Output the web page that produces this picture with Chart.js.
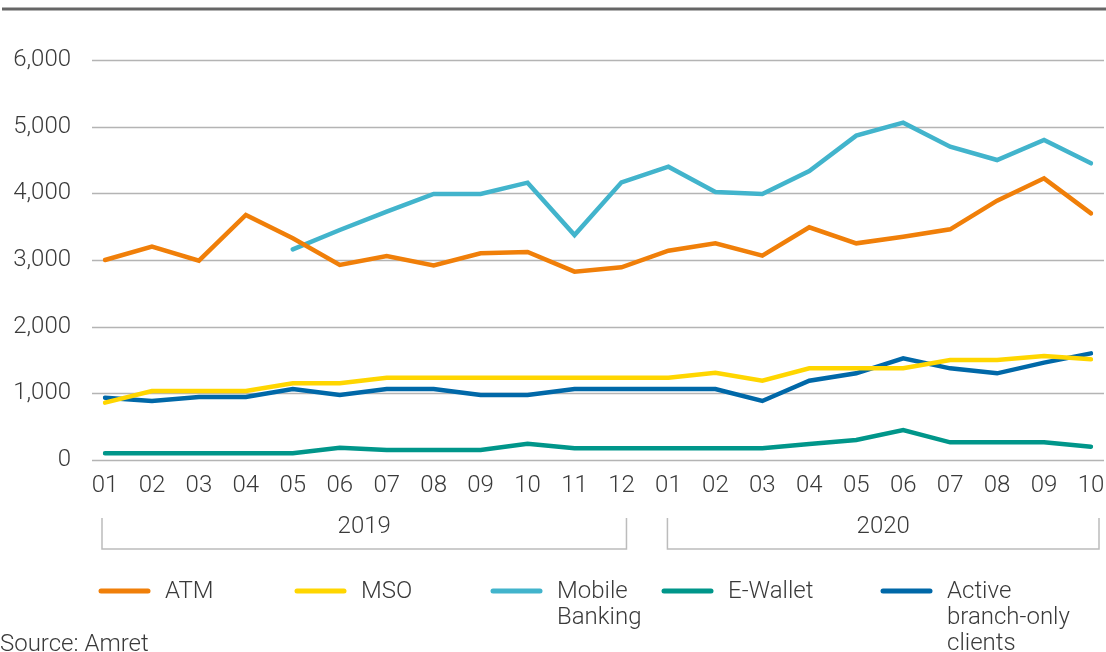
<!DOCTYPE html>
<html>
<head>
<meta charset="utf-8">
<script src="https://cdn.jsdelivr.net/npm/chart.js@4.4.0/dist/chart.umd.min.js"></script>
<style>
  body { margin: 0; background: #fff; }
  #wrap { position: relative; width: 1106px; height: 652px; overflow: hidden; }
</style>
</head>
<body>
<div id="wrap"><canvas id="usageChart" width="1106" height="652"></canvas></div>
<script>
const months = ['01','02','03','04','05','06','07','08','09','10','11','12',
                '01','02','03','04','05','06','07','08','09','10'];
const yearLabels = ['2019', '2020'];
const yTicks = [0, 1000, 2000, 3000, 4000, 5000, 6000];

const atm = [3000, 3200, 2990, 3675, 3325, 2925, 3060, 2920, 3100, 3120, 2825, 2890,
             3140, 3250, 3065, 3490, 3250, 3350, 3460, 3890, 4225, 3700];
const mso = [860, 1035, 1035, 1035, 1150, 1150, 1235, 1235, 1235, 1235, 1235, 1235,
             1235, 1310, 1190, 1375, 1375, 1375, 1500, 1500, 1560, 1510];
const mobileBanking = [null, null, null, null, 3160, 3450, 3725, 3990, 3990, 4160, 3375, 4165,
                       4400, 4020, 3990, 4335, 4865, 5060, 4700, 4500, 4800, 4450];
const eWallet = [100, 100, 100, 100, 100, 185, 150, 150, 150, 245, 175, 175,
                 175, 175, 175, 240, 300, 450, 265, 265, 265, 200];
const branchOnly = [935, 885, 945, 945, 1065, 975, 1065, 1065, 975, 975, 1065, 1065,
                    1065, 1065, 885, 1190, 1300, 1525, 1375, 1300, 1460, 1600];

const FONT = 'Roboto, "Liberation Sans", sans-serif';
const TEXT = '#3a3a3a';

const series = [
    { label: ['ATM'], data: atm, color: '#F07F09', legendX: 99 },
    { label: ['MSO'], data: mso, color: '#FFD600', legendX: 295 },
    { label: ['Mobile', 'Banking'], data: mobileBanking, color: '#42B4CC', legendX: 491 },
    { label: ['E-Wallet'], data: eWallet, color: '#00968A', legendX: 662 },
    { label: ['Active', 'branch-only', 'clients'], data: branchOnly, color: '#0068A8', legendX: 881 }
];

// gridlines, top rule, year brackets, legend and source note
const decorations = {
    id: 'decorations',
    beforeDatasetsDraw(chart) {
        const { ctx, scales: { y } } = chart;
        ctx.save();
        ctx.strokeStyle = '#b4b4b4';
        ctx.lineWidth = 1.5;
        yTicks.forEach(v => {
            const py = Math.round(y.getPixelForValue(v)) + 0.5;
            ctx.beginPath();
            ctx.moveTo(92, py);
            ctx.lineTo(1104, py);
            ctx.stroke();
        });
        ctx.strokeStyle = '#666';
        ctx.lineWidth = 3;
        ctx.beginPath();
        ctx.moveTo(2, 9);
        ctx.lineTo(1106, 9);
        ctx.stroke();
        ctx.restore();
    },
    afterDraw(chart) {
        const { ctx, scales: { x } } = chart;
        ctx.save();

        const spans = [
            [x.getPixelForValue(0) - 3, x.getPixelForValue(11) + 5],
            [x.getPixelForValue(12) - 1, x.getPixelForValue(21) + 8]
        ];
        ctx.strokeStyle = '#bcbcbc';
        ctx.lineWidth = 1.5;
        ctx.font = '300 24px ' + FONT;
        ctx.fillStyle = TEXT;
        ctx.textAlign = 'center';
        ctx.textBaseline = 'middle';
        spans.forEach(([a, b], i) => {
            ctx.beginPath();
            ctx.moveTo(a, 518);
            ctx.lineTo(a, 549);
            ctx.lineTo(b, 549);
            ctx.lineTo(b, 518);
            ctx.stroke();
            ctx.fillText(yearLabels[i], (a + b) / 2, 527);
        });

        ctx.textAlign = 'left';
        ctx.lineCap = 'round';
        series.forEach(s => {
            ctx.strokeStyle = s.color;
            ctx.lineWidth = 5;
            ctx.beginPath();
            ctx.moveTo(s.legendX + 2, 591);
            ctx.lineTo(s.legendX + 49, 591);
            ctx.stroke();
            s.label.forEach((line, j) => {
                ctx.fillText(line, s.legendX + 66, 592 + j * 26);
            });
        });

        ctx.fillText('Source: Amret', 0, 645);
        ctx.restore();
    }
};

const ctx = document.getElementById('usageChart').getContext('2d');
const chart = new Chart(ctx, {
    type: 'line',
    data: {
        labels: months,
        datasets: series.map(s => ({
            label: s.label.join(' '),
            data: s.data,
            borderColor: s.color,
            backgroundColor: s.color,
            borderWidth: 4.5,
            borderCapStyle: 'round',
            borderJoinStyle: 'miter',
            pointRadius: 0,
            tension: 0,
            spanGaps: false
        }))
    },
    options: {
        responsive: false,
        animation: false,
        devicePixelRatio: 1,
        layout: { padding: { left: 0, right: 15, top: 60, bottom: 0 } },
        plugins: {
            legend: { display: false },
            tooltip: { enabled: false }
        },
        scales: {
            x: {
                offset: false,
                grid: { display: false },
                border: { display: false },
                ticks: {
                    autoSkip: false,
                    maxRotation: 0,
                    padding: 4,
                    color: TEXT,
                    font: { family: FONT, size: 24, weight: '300' }
                },
                afterFit(scale) {
                    scale.height = 192;
                    scale.paddingLeft = 0;
                    scale.paddingRight = 0;
                }
            },
            y: {
                min: 0,
                max: 6000,
                grid: { display: false },
                border: { display: false },
                ticks: {
                    stepSize: 1000,
                    padding: 26,
                    color: TEXT,
                    font: { family: FONT, size: 24, weight: '300' },
                    callback: v => v.toLocaleString('en-US')
                },
                afterFit(scale) {
                    scale.width = 105;
                    scale.paddingTop = 0;
                    scale.paddingBottom = 0;
                }
            }
        }
    },
    plugins: [decorations]
});
</script>
</body>
</html>
